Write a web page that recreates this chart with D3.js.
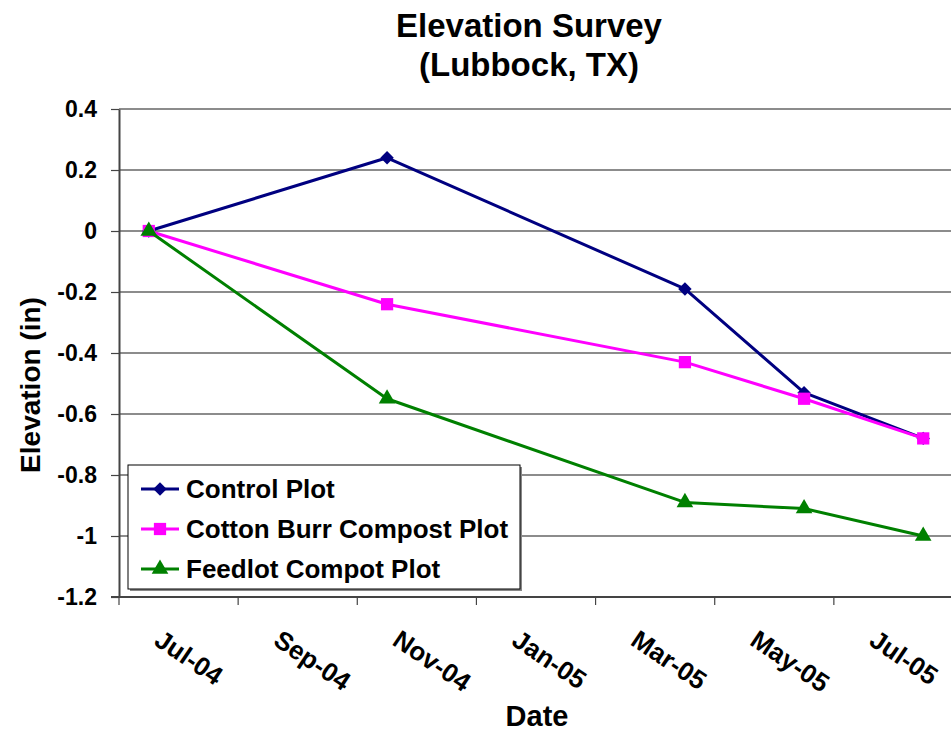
<!DOCTYPE html>
<html>
<head>
<meta charset="utf-8">
<script src="https://cdn.jsdelivr.net/npm/d3@7"></script>
<style>
  html, body { margin: 0; padding: 0; background: #fff; }
  svg { display: block; }
  text { font-family: "Liberation Sans", Arial, Helvetica, sans-serif; font-weight: bold; fill: #000; }
</style>
</head>
<body>
<svg id="chart" width="951" height="731"></svg>
<script>
// ---- data ----
const months = ["Jul-04","Aug-04","Sep-04","Oct-04","Nov-04","Dec-04","Jan-05","Feb-05","Mar-05","Apr-05","May-05","Jun-05","Jul-05","Aug-05"];
const tickMonths = ["Jul-04","Sep-04","Nov-04","Jan-05","Mar-05","May-05","Jul-05"];
const surveyDates = ["Jul-04","Nov-04","Apr-05","Jun-05","Aug-05"];
const controlPlot = [0, 0.24, -0.19, -0.53, -0.68];
const cottonBurrPlot = [0, -0.24, -0.43, -0.55, -0.68];
const feedlotPlot = [0, -0.55, -0.89, -0.91, -1.0];
const yTicks = [0.4, 0.2, 0, -0.2, -0.4, -0.6, -0.8, -1.0, -1.2];
const yTickLabels = ["0.4","0.2","0","-0.2","-0.4","-0.6","-0.8","-1","-1.2"];
const seriesNames = ["Control Plot","Cotton Burr Compost Plot","Feedlot Compot Plot"];
const titleLines = ["Elevation Survey","(Lubbock, TX)"];

(function () {
const seriesValues = [controlPlot, cottonBurrPlot, feedlotPlot];
const colors = ["#000080","#FF00FF","#008000"];
const shapes = [d3.symbolDiamond2 || d3.symbolDiamond, d3.symbolSquare, d3.symbolTriangle];
const shapeSizes = [115, 150, 120];

const svg = d3.select("#chart");
const pl = 119, pr = 953, pt = 109, pb = 597;

const x = d3.scaleBand().domain(months).range([pl, pr]).padding(0);
const bw = x.bandwidth();
const xc = m => x(m) + bw / 2;
const y = d3.scaleLinear().domain([-1.2, 0.4]).range([pb, pt]);

// gridlines
svg.append("g").selectAll("line").data(yTicks).join("line")
  .attr("x1", pl).attr("x2", pr)
  .attr("y1", d => y(d)).attr("y2", d => y(d))
  .attr("stroke", "#1a1a1a").attr("stroke-width", 1.2);

// y axis
const yAxis = d3.axisLeft(y).tickValues(yTicks)
  .tickFormat((d, i) => yTickLabels[i]).tickSize(8).tickSizeOuter(0).tickPadding(14);
const gy = svg.append("g").attr("transform", `translate(${pl},0)`).call(yAxis);
gy.select(".domain").attr("stroke", "#444").attr("stroke-width", 2);
gy.selectAll(".tick line").attr("stroke", "#444").attr("stroke-width", 1.2);
gy.selectAll(".tick text").attr("font-size", 23).attr("font-weight", "bold")
  .attr("font-family", "Liberation Sans, Arial, sans-serif").attr("fill", "#000");

// x axis line
svg.append("line").attr("x1", pl - 8).attr("x2", pr).attr("y1", pb).attr("y2", pb)
  .attr("stroke", "#444").attr("stroke-width", 2);
// x ticks at month boundaries every 2 months
svg.append("g").selectAll("line").data(tickMonths).join("line")
  .attr("x1", d => x(d)).attr("x2", d => x(d))
  .attr("y1", pb).attr("y2", pb + 8)
  .attr("stroke", "#444").attr("stroke-width", 1.2);
// x labels (rotated)
svg.append("g").selectAll("text").data(tickMonths).join("text")
  .attr("transform", d => `translate(${xc(d) + 4},644) rotate(34)`)
  .attr("text-anchor", "start")
  .attr("font-size", 26)
  .text(d => d);

// series lines and markers
seriesValues.forEach((vals, si) => {
  const pts = surveyDates.map((m, i) => [xc(m), y(vals[i])]);
  svg.append("path").datum(pts)
    .attr("d", d3.line())
    .attr("fill", "none").attr("stroke", colors[si]).attr("stroke-width", 3)
    .attr("stroke-linejoin", "round");
  svg.append("g").selectAll("path").data(pts).join("path")
    .attr("transform", d => `translate(${d[0]},${d[1]})`)
    .attr("d", d3.symbol().type(shapes[si]).size(shapeSizes[si]))
    .attr("fill", colors[si]);
});

// legend
const lg = svg.append("g");
lg.append("rect").attr("x", 130).attr("y", 467).attr("width", 392).attr("height", 124).attr("fill", "#888");
lg.append("rect").attr("x", 128).attr("y", 465).attr("width", 392).attr("height", 124)
  .attr("fill", "#fff").attr("stroke", "#000").attr("stroke-width", 1);
const rowY = [489, 529, 569];
seriesNames.forEach((name, i) => {
  lg.append("line").attr("x1", 141).attr("x2", 179).attr("y1", rowY[i]).attr("y2", rowY[i])
    .attr("stroke", colors[i]).attr("stroke-width", 3);
  lg.append("path").attr("transform", `translate(160,${rowY[i]})`)
    .attr("d", d3.symbol().type(shapes[i]).size(shapeSizes[i])).attr("fill", colors[i]);
  lg.append("text").attr("x", 186).attr("y", rowY[i] + 9).attr("font-size", 26).text(name);
});

// titles
svg.append("g").selectAll("text").data(titleLines).join("text")
  .attr("x", 529).attr("y", (d, i) => 37 + i * 39)
  .attr("text-anchor", "middle").attr("font-size", 33).text(d => d);
svg.append("text").attr("x", 537).attr("y", 726).attr("text-anchor", "middle")
  .attr("font-size", 29).text("Date");
svg.append("text").attr("transform", "translate(40,385) rotate(-90)")
  .attr("text-anchor", "middle").attr("font-size", 28).text("Elevation (in)");
})();
</script>
</body>
</html>
